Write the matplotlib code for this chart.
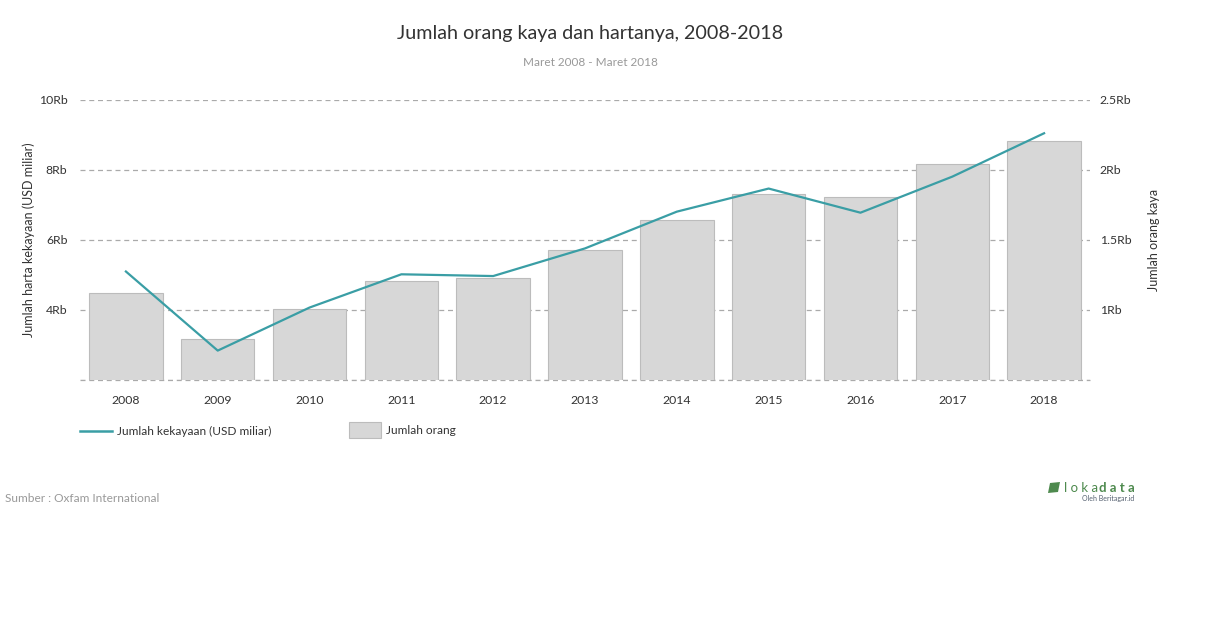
import matplotlib.pyplot as plt
from matplotlib.lines import Line2D
from matplotlib.patches import Polygon

plt.rcParams['font.family'] = ['Lato', 'DejaVu Sans']

# data
years = ['2008', '2009', '2010', '2011', '2012', '2013', '2014', '2015', '2016', '2017', '2018']
kekayaan = [5100, 2840, 4070, 5020, 4970, 5760, 6810, 7470, 6780, 7810, 9050]   # USD miliar
orang = [1119, 791, 1009, 1205, 1226, 1426, 1641, 1826, 1805, 2041, 2205]      # jumlah orang kaya

left_ticks = [2000, 4000, 6000, 8000, 10000]
left_labels = ['', '4Rb', '6Rb', '8Rb', '10Rb']
right_ticks = [500, 1000, 1500, 2000, 2500]
right_labels = ['', '1Rb', '1.5Rb', '2Rb', '2.5Rb']

line_color = '#3a9ea5'
bar_color = '#d7d7d7'
text_color = '#333333'
grey = '#999999'
green = '#4e8a4e'

fig = plt.figure(figsize=(12.1, 6.28), dpi=100)
ax = fig.add_axes([80/1210, 1-380/628, 1010/1210, 280/628])
ax2 = ax.twinx()

# bars on the right axis, drawn underneath the line
x = list(range(len(years)))
ax2.bar(x, orang, width=0.8, color=bar_color, edgecolor='#bcbcbc', linewidth=0.8, zorder=2)
ax2.set_ylim(500, 2500)
ax2.set_yticks(right_ticks)
ax2.set_yticklabels(right_labels)
ax2.yaxis.grid(True, linestyle=(0, (4, 3)), color='#aaaaaa', linewidth=0.9, zorder=0)
ax2.axhline(500, linestyle=(0, (4, 3)), color='#aaaaaa', linewidth=0.9, zorder=0, clip_on=False)
ax2.set_axisbelow(True)
ax2.tick_params(axis='y', length=0, pad=7, labelsize=8.8, labelcolor=text_color)
ax2.set_ylabel('Jumlah orang kaya', fontsize=9, color=text_color, labelpad=12)

ax.plot(x, kekayaan, color=line_color, linewidth=1.6, zorder=3)
ax.set_zorder(ax2.get_zorder() + 1)
ax.patch.set_visible(False)
ax.set_ylim(2000, 10000)
ax.set_yticks(left_ticks)
ax.set_yticklabels(left_labels)
ax.set_xlim(-0.5, len(years) - 0.5)
ax.set_xticks(x)
ax.set_xticklabels(years)
ax.tick_params(axis='y', length=0, pad=9, labelsize=8.8, labelcolor=text_color)
ax.tick_params(axis='x', length=0, pad=11, labelsize=8.8, labelcolor=text_color)
ax.set_ylabel('Jumlah harta kekayaan (USD miliar)', fontsize=9, color=text_color, labelpad=3)

for a in (ax, ax2):
    for s in a.spines.values():
        s.set_visible(False)

fig.text(590/1210, 1-33/628, 'Jumlah orang kaya dan hartanya, 2008-2018', ha='center', va='center',
         fontsize=14.2, color=text_color)
fig.text(590/1210, 1-62/628, 'Maret 2008 - Maret 2018', ha='center', va='center', fontsize=8.5, color=grey)

# legend, built by hand below the plot
fig.add_artist(Line2D([80/1210, 112/1210], [1-431/628, 1-431/628], color=line_color, linewidth=1.8))
fig.text(117/1210, 1-431/628, 'Jumlah kekayaan (USD miliar)', va='center', fontsize=8.6, color=text_color)
fig.add_artist(plt.Rectangle((349/1210, 1-438/628), 32/1210, 16/628, facecolor=bar_color,
                             edgecolor='#bcbcbc', linewidth=0.8))
fig.text(386/1210, 1-431/628, 'Jumlah orang', va='center', fontsize=8.6, color=text_color)

fig.text(5/1210, 1-498/628, 'Sumber : Oxfam International', va='center', fontsize=8.6, color=grey)

# lokadata mark
leaf = [(1048, 493), (1050, 483), (1060, 482), (1058, 492)]
fig.add_artist(Polygon([(px/1210, 1-py/628) for px, py in leaf], closed=True,
                       facecolor=green, edgecolor='none'))
fig.text(1064/1210, 1-488/628, 'l o k a', va='center', fontsize=9.5, color=green)
fig.text(1099/1210, 1-488/628, 'd a t a', va='center', fontsize=9.5, color=green, fontweight='bold')
fig.text(1134/1210, 1-498/628, 'Oleh Beritagar.id', va='center', ha='right', fontsize=5, color='#556070')

fig.savefig('out.png', dpi=100)
